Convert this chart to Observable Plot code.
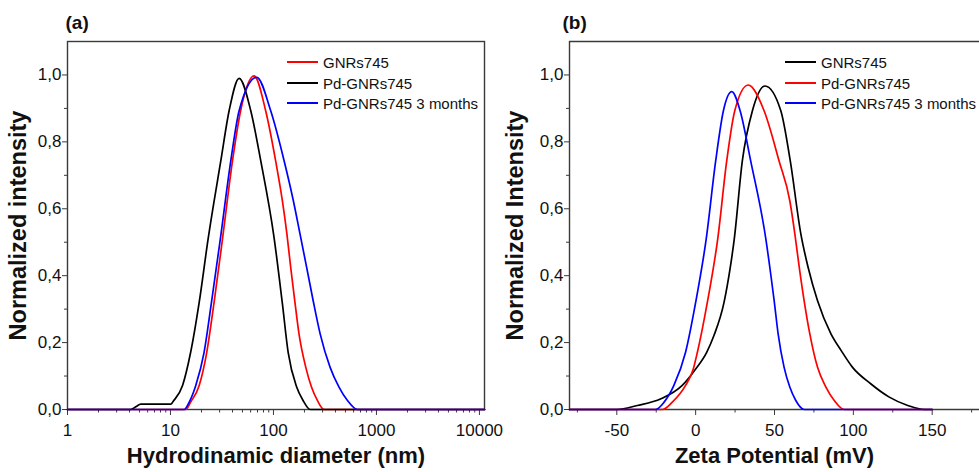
<!DOCTYPE html>
<html><head><meta charset="utf-8">
<script src="https://cdn.jsdelivr.net/npm/d3@7"></script>
<script src="https://cdn.jsdelivr.net/npm/@observablehq/plot@0.6"></script>
<style>
body{margin:0;background:#fff;}
#wrap{position:relative;width:979px;height:472px;overflow:hidden;font-family:"Liberation Sans",Arial,sans-serif;background:#fff;}
.panel{position:absolute;top:0;}
.legend{position:absolute;font-size:15px;color:#111;}
.legend .row{position:absolute;left:0;white-space:nowrap;display:flex;align-items:center;height:20px;}
.legend .sw{display:inline-block;width:31px;height:0;border-top:2px solid;margin-right:5px;}
</style></head>
<body><div id="wrap"></div>
<script>
const FONT = '"Liberation Sans", Arial, sans-serif';

// ---------- Panel (a): hydrodynamic diameter (log x) ----------
const seriesA = ["GNRs745", "Pd-GNRs745", "Pd-GNRs745 3 months"];
const colorsA = ["#ff0000", "#000000", "#0000ff"];
const dA_gnr = [1, 14.1, 15.7, 19.0, 22.5, 26.5, 32, 40, 48, 64.8, 84, 105, 122, 135, 147, 161, 177, 206, 234, 267, 310, 11200];
const iA_gnr = [0, 0, 0.022, 0.072, 0.171, 0.32, 0.51, 0.743, 0.893, 0.997, 0.893, 0.743, 0.624, 0.525, 0.425, 0.325, 0.226, 0.126, 0.067, 0.027, 0, 0];
const dA_pd = [1, 4.1, 4.6, 5.15, 7, 10.1, 10.6, 13.1, 15.7, 19.0, 23.2, 30.8, 37.1, 46.4, 60.2, 75.3, 100.7, 121.7, 139, 168, 194, 227, 11200];
const iA_pd = [0, 0, 0.008, 0.016, 0.016, 0.016, 0.024, 0.072, 0.171, 0.32, 0.51, 0.743, 0.893, 0.990, 0.893, 0.743, 0.52, 0.32, 0.17, 0.067, 0.027, 0, 0];
const dA_3m = [1, 13.6, 15.2, 17.6, 21.2, 25, 30.5, 38.5, 46.4, 68.8, 94, 127, 156, 181, 210, 243, 284, 355, 433, 523, 654, 11200];
const iA_3m = [0, 0, 0.022, 0.072, 0.171, 0.32, 0.51, 0.743, 0.893, 0.993, 0.893, 0.743, 0.624, 0.525, 0.425, 0.325, 0.226, 0.126, 0.067, 0.027, 0, 0];

// ---------- Panel (b): zeta potential ----------
const seriesB = ["GNRs745", "Pd-GNRs745", "Pd-GNRs745 3 months"];
const colorsB = ["#000000", "#ff0000", "#0000ff"];
const zB_gnr = [-80, -50, -37, -22, -8.5, 0, 7, 11.6, 18, 21.8, 24.5, 29.6, 36, 44, 54, 60, 66.7, 71.3, 77.3, 85.8, 92.3, 99.5, 111, 122.8, 134.5, 145, 150];
const iB_gnr = [0, 0, 0.012, 0.032, 0.072, 0.121, 0.171, 0.221, 0.32, 0.42, 0.51, 0.743, 0.893, 0.967, 0.893, 0.743, 0.525, 0.425, 0.325, 0.226, 0.176, 0.126, 0.077, 0.037, 0.012, 0, 0];
const zB_pd = [-80, -21, -14.8, -6.4, -1.5, 1.1, 7.4, 14, 19.7, 24.8, 33.3, 43.4, 52.9, 59.7, 62.9, 65.7, 68.8, 72.4, 77.3, 82.6, 87.9, 94.2, 150];
const iB_pd = [0, 0, 0.022, 0.072, 0.121, 0.171, 0.32, 0.51, 0.743, 0.893, 0.970, 0.893, 0.743, 0.624, 0.525, 0.425, 0.325, 0.226, 0.126, 0.067, 0.027, 0, 0];
const zB_3m = [-80, -25.4, -20, -13.8, -6.4, 0, 6.7, 12.7, 17.6, 22.9, 28.2, 34.9, 44.5, 47.6, 49.8, 52.3, 56.1, 59.7, 63.5, 68.8, 150];
const iB_3m = [0, 0, 0.022, 0.072, 0.171, 0.32, 0.51, 0.743, 0.893, 0.950, 0.893, 0.743, 0.51, 0.405, 0.325, 0.226, 0.126, 0.067, 0.027, 0, 0];

// ---------- Axes ----------
const yDomain = [0, 1.1];
const yMajor = [0, 0.2, 0.4, 0.6, 0.8, 1.0];
const yMinor = [0.1, 0.3, 0.5, 0.7, 0.9];
const xDomainA = [1, 11200];
const xMajorA = [1, 10, 100, 1000, 10000];
const xMinorA = [2,3,4,5,6,7,8,9, 20,30,40,50,60,70,80,90, 200,300,400,500,600,700,800,900, 2000,3000,4000,5000,6000,7000,8000,9000];
const xDomainB = [-80, 180];
const xMajorB = [-50, 0, 50, 100, 150];
const xMinorB = [-75, -25, 25, 75, 125, 175];

const titleA = "(a)", titleB = "(b)";
const xLabelA = "Hydrodinamic diameter (nm)";
const yLabelA = "Normalized intensity";
const xLabelB = "Zeta Potential (mV)";
const yLabelB = "Normalized Intensity";

const fmtY = d => d.toFixed(1).replace(".", ",");
const AX = "#3a3a3a";

function rows(names, xs, ys) {
  const out = [];
  names.forEach((n, k) => xs[k].forEach((x, i) => out.push({series: n, x, y: ys[k][i]})));
  return out;
}
const dataA = rows(seriesA, [dA_gnr, dA_pd, dA_3m], [iA_gnr, iA_pd, iA_3m]);
const dataB = rows(seriesB, [zB_gnr, zB_pd, zB_3m], [iB_gnr, iB_pd, iB_3m]);

function yAxes() {
  return [
    Plot.axisY({ticks: yMajor, tickSize: 5, tickPadding: 1, tickFormat: fmtY, label: null, stroke: AX, fontSize: 17}),
    Plot.axisY({ticks: yMinor, tickSize: 3, tickFormat: () => "", label: null, stroke: AX})
  ];
}

const plotA = Plot.plot({
  width: 490, height: 472,
  marginLeft: 67, marginRight: 6, marginTop: 41, marginBottom: 63,
  style: {fontFamily: FONT, fontSize: "17px", color: "#111", background: "transparent", overflow: "visible"},
  x: {type: "log", domain: xDomainA},
  y: {domain: yDomain},
  color: {domain: seriesA, range: colorsA},
  marks: [
    Plot.frame({stroke: AX, strokeWidth: 1.4}),
    ...yAxes(),
    Plot.axisX({ticks: xMajorA, tickSize: 6, tickPadding: 8, tickFormat: d => String(d), label: null, stroke: AX, fontSize: 17}),
    Plot.axisX({ticks: xMinorA, tickSize: 3.5, tickFormat: () => "", label: null, stroke: AX}),
    Plot.line(dataA, {x: "x", y: "y", z: "series", stroke: "series", strokeWidth: 1.7, curve: "monotone-x"}),
    Plot.text([titleA], {text: d => d, frameAnchor: "top-left", dx: -2, dy: -19, textAnchor: "start", lineAnchor: "middle", fontWeight: "bold", fontSize: 19}),
    Plot.text([xLabelA], {text: d => d, frameAnchor: "bottom", dy: 46, lineAnchor: "middle", fontWeight: "bold", fontSize: 22}),
    Plot.text([yLabelA], {text: d => d, frameAnchor: "left", dx: -49, rotate: -90, textAnchor: "middle", lineAnchor: "middle", fontWeight: "bold", fontSize: 23.5})
  ]
});

const plotB = Plot.plot({
  width: 489, height: 472,
  marginLeft: 79, marginRight: 0, marginTop: 41, marginBottom: 63,
  style: {fontFamily: FONT, fontSize: "17px", color: "#111", background: "transparent", overflow: "visible"},
  x: {domain: xDomainB},
  y: {domain: yDomain},
  color: {domain: seriesB, range: colorsB},
  marks: [
    Plot.ruleY(yDomain, {stroke: AX, strokeWidth: 1.4}),
    Plot.ruleX([xDomainB[0]], {stroke: AX, strokeWidth: 1.4}),
    ...yAxes(),
    Plot.axisX({ticks: xMajorB, tickSize: 6, tickPadding: 8, tickFormat: d => String(d), label: null, stroke: AX, fontSize: 17}),
    Plot.axisX({ticks: xMinorB, tickSize: 3.5, tickFormat: () => "", label: null, stroke: AX}),
    Plot.line(dataB, {x: "x", y: "y", z: "series", stroke: "series", strokeWidth: 1.7, curve: "monotone-x"}),
    Plot.text([titleB], {text: d => d, frameAnchor: "top-left", dx: -7, dy: -19, textAnchor: "start", lineAnchor: "middle", fontWeight: "bold", fontSize: 19}),
    Plot.text([xLabelB], {text: d => d, frameAnchor: "bottom", dy: 46, lineAnchor: "middle", fontWeight: "bold", fontSize: 22}),
    Plot.text([yLabelB], {text: d => d, frameAnchor: "left", dx: -54, rotate: -90, textAnchor: "middle", lineAnchor: "middle", fontWeight: "bold", fontSize: 23.5})
  ]
});

const wrap = document.getElementById("wrap");
plotA.classList.add("panel"); plotA.style.left = "0px";
plotB.classList.add("panel"); plotB.style.left = "490px";
wrap.appendChild(plotA);
wrap.appendChild(plotB);

function legend(left, names, colors) {
  const lg = document.createElement("div");
  lg.className = "legend";
  lg.style.left = left + "px";
  lg.style.top = "0px";
  const centers = [62, 83, 103];
  names.forEach((n, i) => {
    const r = document.createElement("div");
    r.className = "row";
    r.style.top = (centers[i] - 10) + "px";
    const sw = document.createElement("span");
    sw.className = "sw";
    sw.style.borderTopColor = colors[i];
    r.appendChild(sw);
    r.appendChild(document.createTextNode(n));
    lg.appendChild(r);
  });
  wrap.appendChild(lg);
}
legend(287, seriesA, colorsA);
legend(785, seriesB, colorsB);
</script></body></html>
